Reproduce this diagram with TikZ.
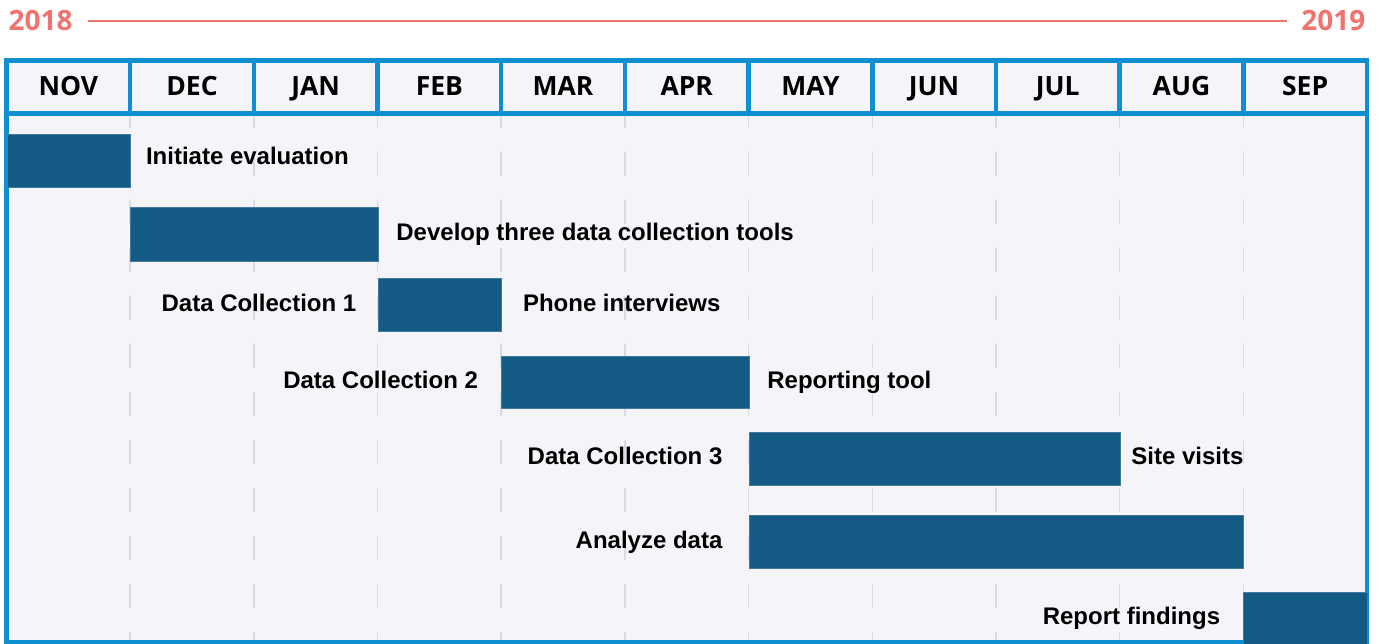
\documentclass[tikz,border=0pt]{standalone}
\usepackage{fontspec}
\setmainfont{Liberation Sans}
\newfontfamily\hdrfont{Open Sans}
\definecolor{frameblue}{RGB}{14,143,209}
\definecolor{barblue}{RGB}{19,90,133}
\definecolor{bodybg}{RGB}{244,244,249}
\definecolor{gridgray}{RGB}{218,218,228}
\definecolor{salmon}{RGB}{240,115,111}
\tikzset{
  bar/.style={fill=barblue, draw=barblue!80!white, line width=0.6pt, inner sep=0pt, anchor=north west},
  lab/.style={font=\fontsize{24}{26}\selectfont\bfseries, text height=17.2pt, text depth=0pt, inner sep=0pt},
  month/.style={font=\hdrfont\fontsize{26.5}{28}\selectfont\bfseries, inner sep=0pt, anchor=base},
  yearlab/.style={font=\hdrfont\fontsize{28}{30}\selectfont\bfseries, text=salmon, inner sep=0pt, anchor=base},
  gridline/.style={gridgray, line width=1.5pt, dash pattern=on 24pt off 24pt, dash phase=12pt},
  frame/.style={frameblue, line width=4.5pt}
}
\begin{document}
\begin{tikzpicture}[x=1pt,y=-1pt]
\useasboundingbox (0,0) rectangle (1379,644);
\def\cw{123.68}
% body background
\fill[bodybg] (6.5,60.5) rectangle (1367,642.5);
% dashed grid
\foreach \i in {1,...,10}
  \draw[gridline] ({6.5+\cw*\i},116) -- ({6.5+\cw*\i},642);
% years
\node[yearlab, anchor=base west] (y18) at (8.5,31) {2018};
\node[yearlab, anchor=base east] (y19) at (1365.5,31) {2019};
\draw[salmon, line width=2pt] ([xshift=15pt]y18.east) -- ([xshift=-14pt]y19.west);
% months
\foreach \m [count=\i from 0] in {NOV,DEC,JAN,FEB,MAR,APR,MAY,JUN,JUL,AUG,SEP}
  \node[month] (m\i) at ({6.5+\cw*(\i+0.5)},96) {\m};
% frame
\draw[frame] (6.5,113.5) -- (1367,113.5);
\foreach \i in {1,...,10}
  \draw[frame] ({6.5+\cw*\i},60.5) -- ({6.5+\cw*\i},113.5);
\draw[frame] (6.5,60.5) rectangle (1367,642.5);
% bars
\node[bar, minimum width=123.7pt, minimum height=53pt] (b1) at (6.5,134) {};
\node[bar, minimum width=247.4pt, minimum height=54pt] (b2) at (130.2,207) {};
\node[bar, minimum width=123.7pt, minimum height=53pt] (b3) at (377.5,278) {};
\node[bar, minimum width=247.4pt, minimum height=52pt] (b4) at (501.2,356) {};
\node[bar, minimum width=371pt, minimum height=53pt] (b5) at (748.6,432) {};
\node[bar, minimum width=494.7pt, minimum height=53pt] (b6) at (748.6,515) {};
\node[bar, minimum width=123.7pt, minimum height=52pt] (b7) at (1243.3,592) {};
% labels
\node[lab, anchor=west] (l1) at ([xshift=15pt,yshift=4.5pt]b1.east) {Initiate evaluation};
\node[lab, anchor=west] (l2) at ([xshift=18pt,yshift=2pt]b2.east) {Develop three data collection tools};
\node[lab, anchor=east] (l3a) at ([xshift=-21pt,yshift=1.5pt]b3.west) {Data Collection 1};
\node[lab, anchor=west] (l3b) at ([xshift=21pt,yshift=1.5pt]b3.east) {Phone interviews};
\node[lab, anchor=east] (l4a) at ([xshift=-23pt,yshift=2pt]b4.west) {Data Collection 2};
\node[lab, anchor=west] (l4b) at ([xshift=18pt,yshift=2pt]b4.east) {Reporting tool};
\node[lab, anchor=east] (l5a) at ([xshift=-26pt,yshift=2.5pt]b5.west) {Data Collection 3};
\node[lab, anchor=west] (l5b) at ([xshift=11pt,yshift=2.5pt]b5.east) {Site visits};
\node[lab, anchor=east] (l6) at ([xshift=-26pt,yshift=1.5pt]b6.west) {Analyze data};
\node[lab, anchor=east] (l7) at ([xshift=-23pt,yshift=2pt]b7.west) {Report findings};
\end{tikzpicture}
\end{document}
